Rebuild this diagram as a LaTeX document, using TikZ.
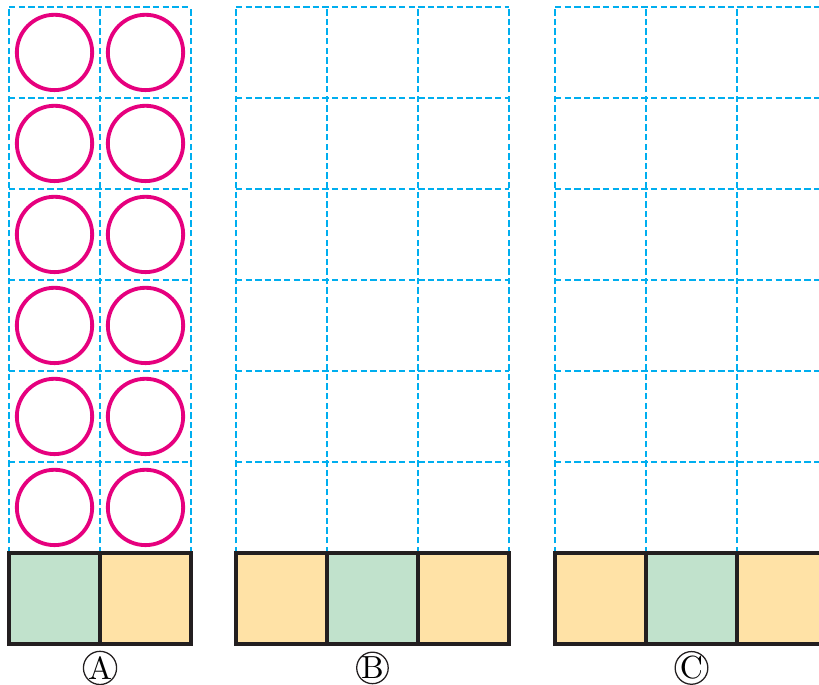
\documentclass[tikz,border=0pt]{standalone}
\usetikzlibrary{positioning}
\definecolor{gridblue}{RGB}{0,174,239}
\definecolor{beadpink}{RGB}{230,0,126}
\definecolor{tilegreen}{RGB}{193,226,204}
\definecolor{tileyellow}{RGB}{255,226,166}
\definecolor{tileblack}{RGB}{35,31,32}
\tikzset{
  gridline/.style={gridblue, dash pattern=on 2pt off 1pt, line width=0.45pt},
  bead/.style={beadpink, line width=1.2pt},
  tile/.style={draw=tileblack, line width=1.1pt},
  tag/.style={draw=tileblack, circle, line width=0.4pt, inner sep=0pt, minimum size=9.8pt, font=\normalsize}
}
\begin{document}
\begin{tikzpicture}[x=1cm,y=1cm]
\useasboundingbox (0,0) rectangle (9,7.527);
\clip (0,0) rectangle (9,7.527);
% A: two columns with beads
\begin{scope}[shift={(0.099,0.4505)}]
  \draw[gridline] (0,1) grid (2,7);
  \foreach \i in {0,1}
    \foreach \j in {1,...,6}
      \draw[bead] (\i+0.5,\j+0.5) circle (0.414);
  \fill[tilegreen] (0,0) rectangle (1,1);
  \fill[tileyellow] (1,0) rectangle (2,1);
  \draw[tile] (0,0) rectangle (2,1) (1,0) -- (1,1);
  \node[tag] (lblA) at (1,-0.2635) {A};
\end{scope}
% B: three columns
\begin{scope}[shift={(2.593,0.4505)}]
  \draw[gridline] (0,1) grid (3,7);
  \fill[tileyellow] (0,0) rectangle (1,1);
  \fill[tilegreen] (1,0) rectangle (2,1);
  \fill[tileyellow] (2,0) rectangle (3,1);
  \draw[tile] (0,0) rectangle (3,1) (1,0) -- (1,1) (2,0) -- (2,1);
  \node[tag] (lblB) at (1.5,-0.2635) {B};
\end{scope}
% C: three columns, cut at the right
\begin{scope}[shift={(6.099,0.4505)}]
  \draw[gridline] (0,1) grid (3,7);
  \fill[tileyellow] (0,0) rectangle (1,1);
  \fill[tilegreen] (1,0) rectangle (2,1);
  \fill[tileyellow] (2,0) rectangle (3,1);
  \draw[tile] (0,0) rectangle (3,1) (1,0) -- (1,1) (2,0) -- (2,1);
  \node[tag] (lblC) at (1.5,-0.2635) {C};
\end{scope}
\end{tikzpicture}
\end{document}
